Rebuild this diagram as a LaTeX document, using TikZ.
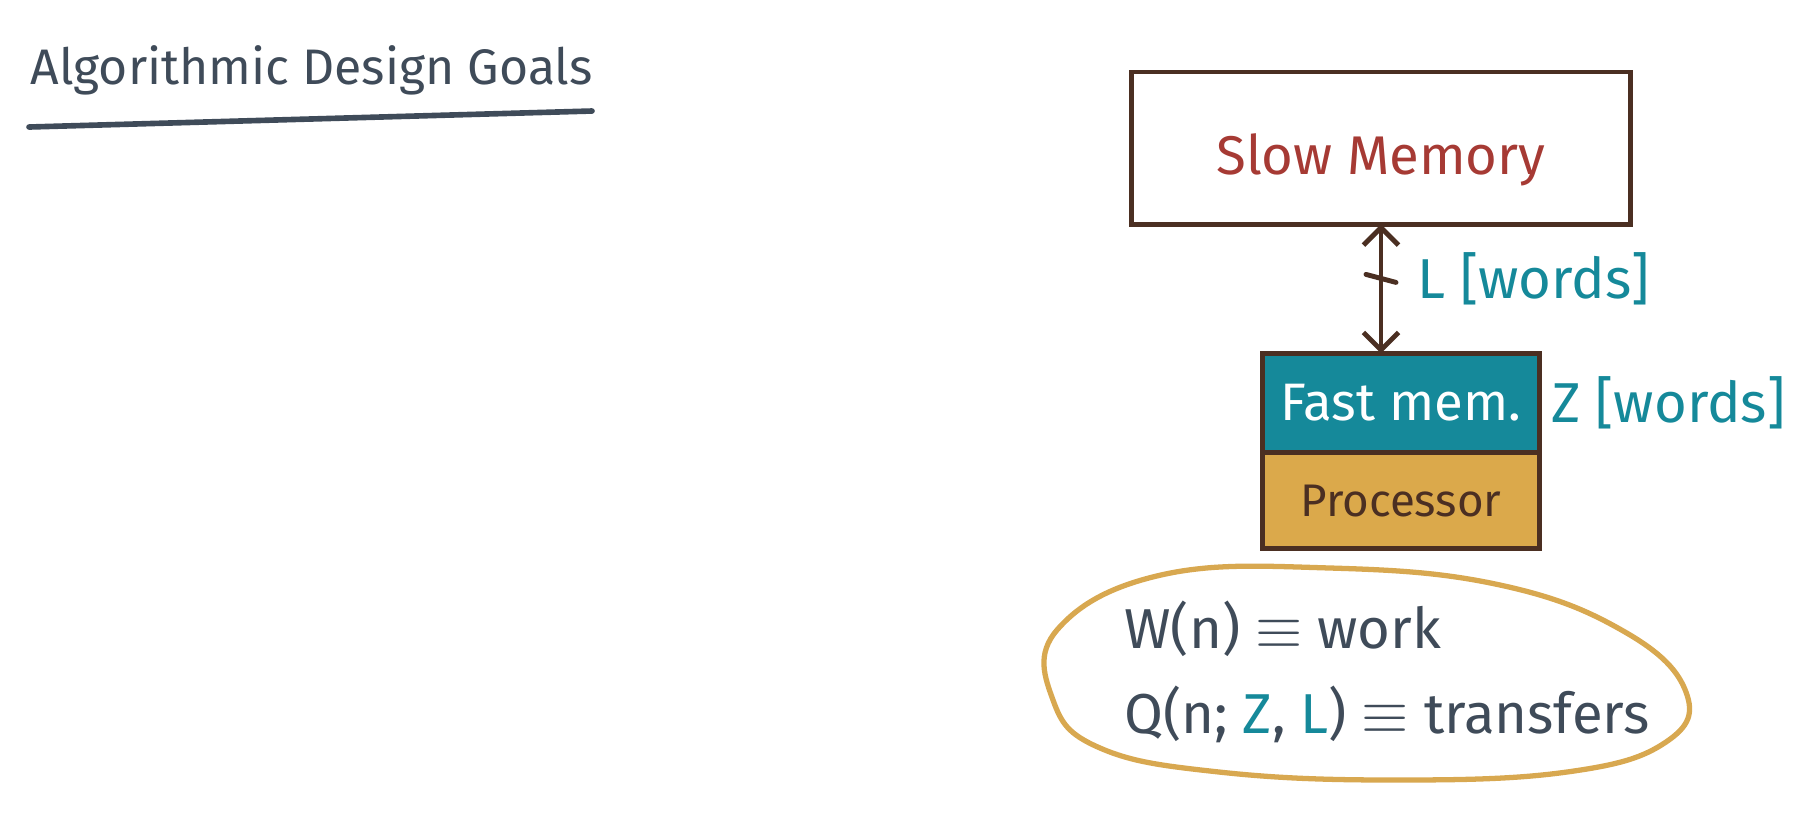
\documentclass[tikz,border=0pt]{standalone}
\usepackage{fontspec}
\setmainfont{Fira Sans}
\usepackage{xcolor}
\usepackage{tikz}
\usetikzlibrary{arrows.meta,positioning,calc}

\definecolor{ink}{HTML}{3F4B59}
\definecolor{edge}{HTML}{4B2F22}
\definecolor{slowred}{HTML}{A63A34}
\definecolor{fastteal}{HTML}{15899A}
\definecolor{procgold}{HTML}{DBA94B}
\definecolor{ringgold}{HTML}{D8A850}

\begin{document}
\begin{tikzpicture}[
        x=0.01cm, y=-0.01cm,
        box/.style={rectangle, draw=edge, line width=1.4pt, outer sep=0pt, inner sep=0pt},
        tag/.style={text=fastteal, font=\fontsize{16}{19}\selectfont},
        arrow/.style={{Straight Barb[length=5pt,width=10pt]}-{Straight Barb[length=5pt,width=10pt]}, draw=edge, line width=1.4pt}
      ]
        \useasboundingbox (0,0) rectangle (1820,835);

        % Title
        \node[anchor=west, text=ink, font=\fontsize{14.2}{17}\selectfont] (title) at (18,70) {Algorithmic Design Goals};
        \draw[ink, line width=1.6pt, line cap=round] (29,127) -- (592,111);

        % Memory hierarchy
        \node[box, minimum width=4.99cm, minimum height=1.52cm, text=slowred, font=\fontsize{15.5}{19}\selectfont] (slow) at (1381,148) {\raisebox{-3.5pt}[\height][\depth]{Slow Memory}};
        \node[box, fill=fastteal, minimum width=2.76cm, minimum height=0.99cm, text=white, font=\fontsize{15}{18}\selectfont] (fast) at (1401,403) {Fast mem.};
        \node[box, fill=procgold, minimum width=2.76cm, minimum height=0.96cm, text=edge, font=\fontsize{13}{16}\selectfont, below=0pt of fast] (proc) {Processor};

        % Transfers
        \draw[arrow] (slow.south) -- coordinate[pos=0.42] (tick) (slow.south |- fast.north);
        \draw[edge, line width=1.4pt, line cap=round] ($(tick)+(-15,-4)$) -- ($(tick)+(15,4)$);
        \node[tag, right=0.24cm of tick] (lwords) {L [words]};
        \node[tag, right=0cm of fast] (zwords) {Z [words]};

        % Goals
        \node[align=left, text=ink, font=\fontsize{16}{24}\selectfont, anchor=west] (goals) at (1112,672)
          {W(n) $\equiv$ work\\Q(n; \textcolor{fastteal}{Z}, \textcolor{fastteal}{L}) $\equiv$ transfers};
        \draw[ringgold, line width=1.5pt] plot[smooth cycle, tension=0.7] coordinates {
          (1161,575) (1330,568) (1500,585) (1625,632) (1686,692) (1666,742)
          (1567,772) (1393,780) (1219,772) (1100,748) (1053,700) (1057,630)};
      \end{tikzpicture}
\end{document}
